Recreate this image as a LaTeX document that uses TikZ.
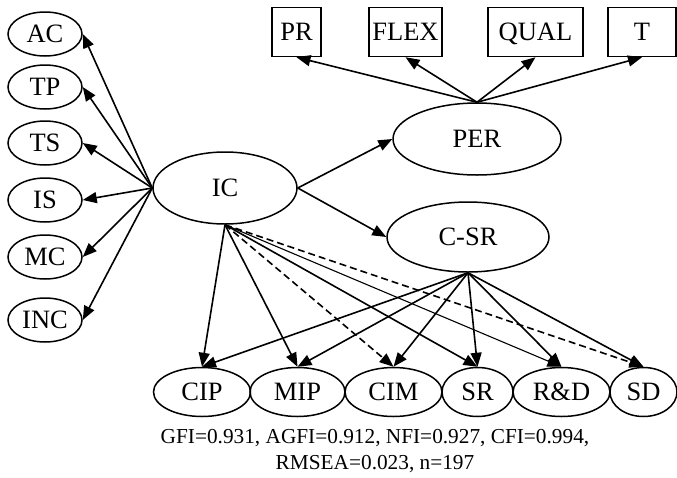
\documentclass[tikz,border=0pt]{standalone}
\usepackage{fontspec}
\setmainfont{Liberation Serif}
\usetikzlibrary{arrows.meta,shapes.geometric}
\begin{document}
\begin{tikzpicture}[x=1pt,y=-1pt,
  lbl/.style={font=\fontsize{26.5}{30}\selectfont, text height=17.5pt, text depth=0pt},
  ell/.style={ellipse, draw, line width=1.5pt, inner sep=0pt, lbl},
  lat/.style={ell, minimum width=74pt, minimum height=44pt},
  bot/.style={ell, minimum height=49pt},
  bx/.style={rectangle, draw, line width=1.5pt, inner sep=0pt, minimum height=49pt, lbl},
  arr/.style={line width=1.6pt, -{Triangle[length=14pt,width=11pt]}},
  darr/.style={arr, dashed, dash pattern=on 7pt off 4pt}]
\useasboundingbox (0,0) rectangle (677,477);
% left latent nodes
\node[lat] (AC)  at (45,34)  {AC};
\node[lat] (TP)  at (45,87)  {TP};
\node[lat] (TS)  at (45,143) {TS};
\node[lat] (IS)  at (45,200) {IS};
\node[lat] (MC)  at (45,257) {MC};
\node[lat] (INC) at (45,320) {INC};
% central
\node[ell, minimum width=144pt, minimum height=72pt] (IC)  at (225,188) {IC};
\node[ell, minimum width=168pt, minimum height=72pt] (PER) at (477,139) {PER};
\node[ell, minimum width=162pt, minimum height=70pt] (CSR) at (468,237) {C-SR};
% top boxes
\node[bx, minimum width=49pt] (PR)   at (296.5,32) {PR};
\node[bx, minimum width=73pt] (FLEX) at (405.5,32) {FLEX};
\node[bx, minimum width=95pt] (QUAL) at (535.5,32) {QUAL};
\node[bx, minimum width=68pt] (T)    at (642,32)   {T};
% bottom
\node[bot, minimum width=97pt] (CIP) at (202,392)   {CIP};
\node[bot, minimum width=95pt] (MIP) at (297.5,392) {MIP};
\node[bot, minimum width=97pt] (CIM) at (393.5,392) {CIM};
\node[bot, minimum width=71pt] (SR)  at (477.5,392) {SR};
\node[bot, minimum width=97pt] (RD)  at (561.5,392) {R\&D};
\node[bot, minimum width=67pt] (SD)  at (643.5,392) {SD};
% edges IC -> left
\foreach \n in {AC,TP,TS,IS,MC,INC} \draw[arr] (IC.west) -- (\n.east);
% IC -> PER, C-SR
\draw[arr] (IC.east) -- (PER.west);
\draw[arr] (IC.east) -- (CSR.west);
% PER -> boxes
\foreach \n in {PR,FLEX,QUAL,T} \draw[arr] (PER.north) -- (\n.south);
% IC -> bottom
\draw[arr]  (IC.south) -- (CIP.north);
\draw[arr]  (IC.south) -- (MIP.north);
\draw[darr] (IC.south) -- (CIM.north);
\draw[arr]  (IC.south) -- (SR.north);
\draw[arr, line width=1.1pt] (IC.south) -- (RD.north);
\draw[darr] (IC.south) -- (SD.north);
% C-SR -> bottom
\foreach \n in {CIP,MIP,CIM,SR,RD,SD} \draw[arr] (CSR.south) -- (\n.north);
% fit indices
\node[align=center, font=\fontsize{21.3}{26}\selectfont, inner sep=0pt] (fit) at (375,451)
  {GFI=0.931, AGFI=0.912, NFI=0.927, CFI=0.994,\\ RMSEA=0.023, n=197};
\end{tikzpicture}
\end{document}
